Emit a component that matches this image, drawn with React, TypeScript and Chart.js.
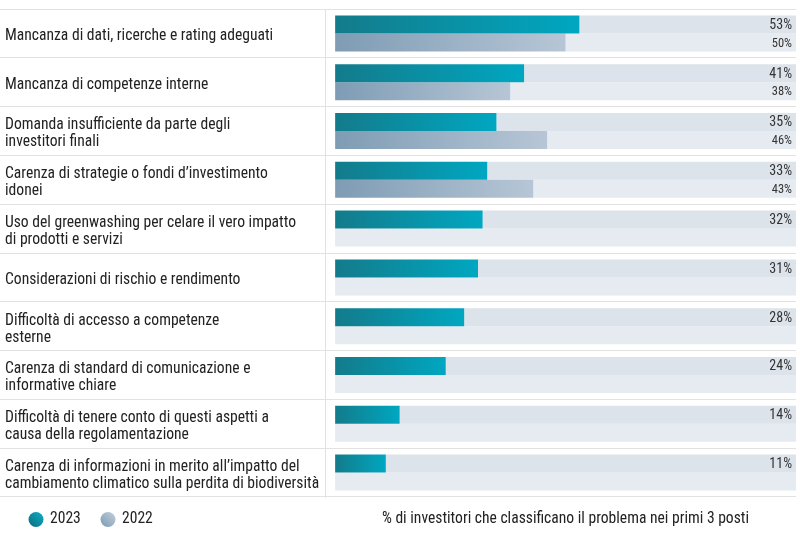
import React, { useEffect, useRef } from "react";
import { Chart, registerables } from "chart.js";
Chart.register(...registerables);

const FONT = "'Roboto Condensed', 'Liberation Sans Narrow', 'DejaVu Sans Condensed', 'Noto Sans'";

const categories: string[][] = [
  ["Mancanza di dati, ricerche e rating adeguati"],
  ["Mancanza di competenze interne"],
  ["Domanda insufficiente da parte degli", "investitori finali"],
  ["Carenza di strategie o fondi d\u2019investimento", "idonei"],
  ["Uso del greenwashing per celare il vero impatto", "di prodotti e servizi"],
  ["Considerazioni di rischio e rendimento"],
  ["Difficolt\u00e0 di accesso a competenze", "esterne"],
  ["Carenza di standard di comunicazione e", "informative chiare"],
  ["Difficolt\u00e0 di tenere conto di questi aspetti a", "causa della regolamentazione"],
  ["Carenza di informazioni in merito all\u2019impatto del", "cambiamento climatico sulla perdita di biodiversit\u00e0"],
];
const values2023: number[] = [53, 41, 35, 33, 32, 31, 28, 24, 14, 11];
const values2022: (number | null)[] = [50, 38, 46, 43, null, null, null, null, null, null];
const trackValues: number[] = [100, 100, 100, 100, 100, 100, 100, 100, 100, 100];
const seriesNames = ["2023", "2022"];
const noteText = "% di investitori che classificano il problema nei primi 3 posti";

function barGradient(c0: string, c1: string) {
  return (ctx: any) => {
    const chart = ctx.chart;
    if (!chart.chartArea || ctx.type !== "data" || ctx.raw == null) return c0;
    const xs = chart.scales.x;
    const x0 = xs.getPixelForValue(0);
    const x1 = xs.getPixelForValue(ctx.raw);
    const g = chart.ctx.createLinearGradient(x0, 0, Math.max(x1, x0 + 1), 0);
    g.addColorStop(0, c0);
    g.addColorStop(1, c1);
    return g;
  };
}

const valueLabels = {
  id: "valueLabels",
  afterDatasetsDraw(chart: any) {
    const ctx = chart.ctx;
    const xs = chart.scales.x;
    [0, 1].forEach((di) => {
      const meta = chart.getDatasetMeta(di);
      const data = chart.data.datasets[di].data;
      meta.data.forEach((el: any, i: number) => {
        const v = data[i];
        if (v == null) return;
        ctx.save();
        ctx.font = `${di === 0 ? 14 : 12.5}px ${FONT}`;
        ctx.fillStyle = "#333";
        ctx.textAlign = "right";
        ctx.textBaseline = "middle";
        ctx.fillText(`${v}%`, xs.right - 4, el.y + 1);
        ctx.restore();
      });
    });
  },
};

const legendAndNote = {
  id: "legendAndNote",
  afterDraw(chart: any) {
    const ctx = chart.ctx;
    const y = (chart.chartArea.bottom + chart.height) / 2 + 2;
    const items = [
      { x: 36, label: seriesNames[0], c0: "#0a6f80", c1: "#10aac4" },
      { x: 108, label: seriesNames[1], c0: "#7f9bb3", c1: "#c0ceda" },
    ];
    ctx.save();
    items.forEach((it) => {
      const g = ctx.createLinearGradient(it.x - 7, y + 7, it.x + 7, y - 7);
      g.addColorStop(0, it.c0);
      g.addColorStop(1, it.c1);
      ctx.fillStyle = g;
      ctx.beginPath();
      ctx.arc(it.x, y, 7.5, 0, Math.PI * 2);
      ctx.fill();
      ctx.fillStyle = "#222";
      ctx.font = `15.6px ${FONT}`;
      ctx.textAlign = "left";
      ctx.textBaseline = "middle";
      ctx.fillText(it.label, it.x + 14, y);
    });
    ctx.font = `15.6px ${FONT}`;
    ctx.textAlign = "right";
    ctx.textBaseline = "middle";
    ctx.fillStyle = "#222";
    ctx.fillText(noteText, 749, y);
    ctx.restore();
  },
};

export default function App() {
  const ref = useRef<HTMLCanvasElement | null>(null);
  useEffect(() => {
    if (!ref.current) return;
    const chart = new Chart(ref.current, {
      type: "bar",
      data: {
        labels: categories,
        datasets: [
          {
            label: seriesNames[0],
            data: values2023,
            stack: "s2023",
            backgroundColor: barGradient("#137b8b", "#00a7c1"),
            order: 0,
          },
          {
            label: seriesNames[1],
            data: values2022,
            stack: "s2022",
            backgroundColor: barGradient("#7e9cb4", "#b7c6d6"),
            order: 1,
          },
          {
            label: "track2023",
            data: trackValues,
            stack: "s2023",
            backgroundColor: "#dce3ea",
            order: 2,
          },
          {
            label: "track2022",
            data: trackValues,
            stack: "s2022",
            backgroundColor: "#e6ebf1",
            order: 3,
          },
        ],
      },
      options: {
        indexAxis: "y",
        animation: false,
        responsive: true,
        maintainAspectRatio: false,
        layout: { padding: { top: 9, right: 4, bottom: 41, left: 5 } },
        datasets: {
          bar: { barPercentage: 1, categoryPercentage: 0.738, borderWidth: 0 },
        },
        plugins: {
          legend: { display: false },
          tooltip: { enabled: false },
        },
        scales: {
          x: { display: false, min: -2.2, max: 100 },
          y: {
            afterFit: (scale: any) => {
              scale.width = 320;
              scale.paddingTop = 0;
              scale.paddingBottom = 0;
            },
            grid: {
              color: "#e2e2e2",
              tickLength: 330,
              offset: true,
            },
            border: { display: true, color: "#e2e2e2" },
            ticks: {
              crossAlign: "far",
              padding: 0,
              labelOffset: 3,
              color: "#222",
              font: { family: FONT, size: 15.6, lineHeight: "17px" },
            },
          },
        },
      },
      plugins: [valueLabels, legendAndNote],
    });
    return () => chart.destroy();
  }, []);
  return (
    <div style={{ position: "absolute", left: 0, top: 0, width: 800, height: 538, background: "#fff" }}>
      <canvas ref={ref} />
    </div>
  );
}
